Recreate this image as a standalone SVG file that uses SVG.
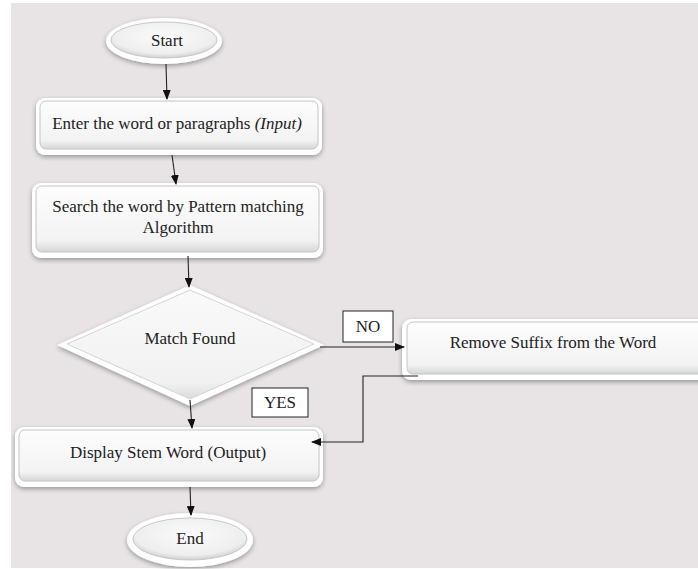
<svg xmlns="http://www.w3.org/2000/svg" width="698" height="569" viewBox="0 0 698 569">
<defs>
<style>
.t{font-family:"Liberation Serif","Times New Roman",serif;font-size:17px;fill:#222;text-anchor:middle;}
.c{stroke:#222;stroke-width:1.1;fill:none;}
.outer{fill:#ffffff;filter:url(#sh);}
.inner{fill:url(#g);stroke:#c4c4c4;stroke-width:1;}
.lbl{fill:#fff;stroke:#222;stroke-width:1;}
</style>
<linearGradient id="g" x1="0" y1="0" x2="0" y2="1">
<stop offset="0" stop-color="#fdfdfd"/>
<stop offset="0.82" stop-color="#f3f3f3"/>
<stop offset="1" stop-color="#d6d6d6"/>
</linearGradient>
<linearGradient id="dg" x1="0" y1="0" x2="0" y2="1">
<stop offset="0" stop-color="#fafafa"/>
<stop offset="0.85" stop-color="#f1f1f1"/>
<stop offset="1" stop-color="#dcdcdc"/>
</linearGradient>
<radialGradient id="eg" cx="0.5" cy="0.4" r="0.6">
<stop offset="0" stop-color="#fbfbfb"/>
<stop offset="0.8" stop-color="#eeeeee"/>
<stop offset="1" stop-color="#cfcfcf"/>
</radialGradient>
<filter id="sh" x="-10%" y="-20%" width="120%" height="150%">
<feGaussianBlur in="SourceAlpha" stdDeviation="2.5"/>
<feOffset dx="0" dy="2" result="b"/>
<feComponentTransfer><feFuncA type="linear" slope="0.35"/></feComponentTransfer>
<feMerge><feMergeNode/><feMergeNode in="SourceGraphic"/></feMerge>
</filter>
<marker id="ah" markerWidth="10" markerHeight="8" refX="9" refY="4" orient="auto" markerUnits="userSpaceOnUse">
<path d="M0,0 L10,4 L0,8 Z" fill="#111"/>
</marker>
</defs>
<rect x="0" y="0" width="698" height="569" fill="#ffffff"/>
<rect x="11" y="3" width="687" height="565" fill="#e8e4e5"/>

<g id="start">
<ellipse class="outer" cx="164" cy="41" rx="58" ry="23"/>
<ellipse cx="164" cy="40" rx="53" ry="18" fill="url(#eg)" stroke="#c8c8c8" stroke-width="1"/>
<text class="t" x="167" y="46">Start</text>
</g>

<g id="input">
<rect class="outer" x="36" y="98" width="286" height="57" rx="9"/>
<rect class="inner" x="40" y="101" width="278" height="48" rx="6"/>
<text class="t" x="177" y="129">Enter the word or paragraphs <tspan font-style="italic">(Input)</tspan></text>
</g>

<g id="search">
<rect class="outer" x="32" y="183" width="291" height="75" rx="9"/>
<rect class="inner" x="36" y="186" width="283" height="66" rx="6"/>
<text class="t" x="178" y="212">Search the word by Pattern matching</text>
<text class="t" x="178" y="233">Algorithm</text>
</g>

<g id="match">
<polygon class="outer" points="190,285 324,345 190,406 57,345"/>
<polygon points="190,290 314,344 190,399 67,344" fill="url(#dg)" stroke="#d4d4d4" stroke-width="1"/>
<text class="t" x="190" y="344">Match Found</text>
</g>

<g id="remove">
<rect class="outer" x="402" y="319" width="310" height="61" rx="9"/>
<rect class="inner" x="407" y="322" width="300" height="52" rx="6"/>
<text class="t" x="553" y="348">Remove Suffix from the Word</text>
</g>

<g id="output">
<rect class="outer" x="15" y="427" width="308" height="60" rx="9"/>
<rect class="inner" x="19" y="430" width="300" height="51" rx="6"/>
<text class="t" x="168" y="458">Display Stem Word (Output)</text>
</g>

<g id="end">
<ellipse class="outer" cx="190" cy="540" rx="63" ry="27"/>
<ellipse cx="190" cy="539" rx="57" ry="21" fill="url(#eg)" stroke="#c8c8c8" stroke-width="1"/>
<text class="t" x="190" y="544">End</text>
</g>

<g id="connectors">
<line class="c" x1="166" y1="64" x2="167" y2="99" marker-end="url(#ah)"/>
<line class="c" x1="172" y1="155" x2="176" y2="184" marker-end="url(#ah)"/>
<line class="c" x1="188" y1="256" x2="189" y2="287" marker-end="url(#ah)"/>
<line class="c" x1="320" y1="347" x2="404" y2="347" marker-end="url(#ah)"/>
<polyline class="c" points="418,376 363,376 363,442 312,442" marker-end="url(#ah)"/>
<line class="c" x1="190" y1="400" x2="192" y2="428" marker-end="url(#ah)"/>
<line class="c" x1="190" y1="487" x2="191" y2="515" marker-end="url(#ah)"/>
</g>

<g id="label-no">
<rect class="lbl" x="343" y="311" width="50" height="31"/>
<text class="t" x="368" y="332">NO</text>
</g>
<g id="label-yes">
<rect class="lbl" x="252" y="388" width="56" height="29"/>
<text class="t" x="280" y="408">YES</text>
</g>
</svg>
